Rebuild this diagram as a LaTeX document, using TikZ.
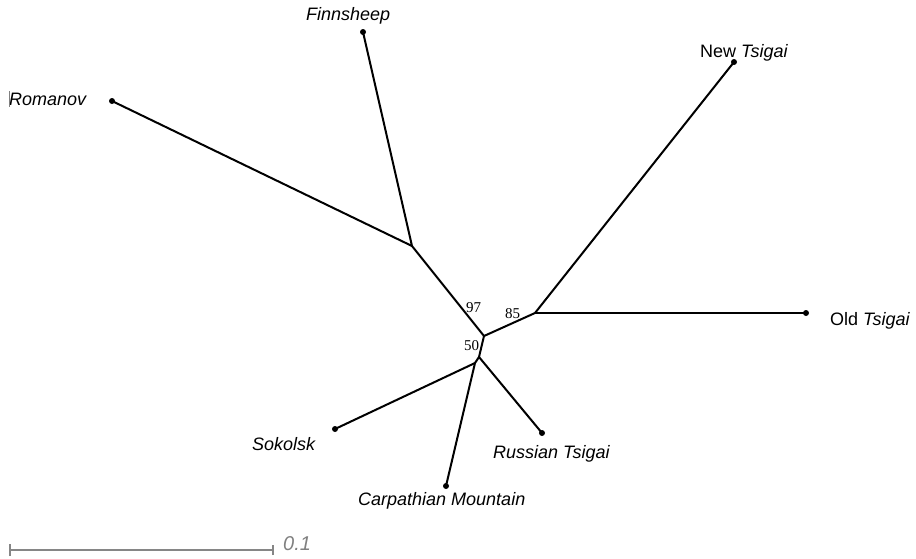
\documentclass[tikz,border=0pt]{standalone}
\usepackage{fontspec}
\setmainfont{Liberation Sans}
\newfontfamily\timesf{Liberation Serif}
\begin{document}
\begin{tikzpicture}[x=1pt,y=-1pt,
  branch/.style={line width=2pt, line cap=round, line join=round},
  tip/.style={circle, fill=black, inner sep=0pt, minimum size=6pt},
  inner/.style={inner sep=0pt, minimum size=0pt},
  leaf/.style={anchor=base west, inner sep=0pt, font=\fontsize{18}{18}\selectfont},
  boot/.style={anchor=base west, inner sep=0pt, font=\timesf\fontsize{15}{15}\selectfont},
  scalebar/.style={line width=2.4pt, draw=gray!95!white}
]
\useasboundingbox (0,0) rectangle (916,558);
% internal nodes
\coordinate (A) at (412,246);
\coordinate (B) at (484,336);
\coordinate (C) at (535,313);
\coordinate (D1) at (479,357);
\coordinate (D2) at (475,363);
% tips
\node[tip] (rom) at (112,101) {};
\node[tip] (fin) at (363,32) {};
\node[tip] (new) at (734,62) {};
\node[tip] (old) at (806,313) {};
\node[tip] (sok) at (335,429) {};
\node[tip] (car) at (446,486) {};
\node[tip] (rus) at (542,433) {};
% branches
\draw[branch] (rom.center) -- (A) -- (fin.center);
\draw[branch] (A) -- (B) -- (C) -- (new.center);
\draw[branch] (C) -- (old.center);
\draw[branch] (B) -- (D1) -- (rus.center);
\draw[branch] (D1) -- (D2) -- (sok.center);
\draw[branch] (D2) -- (car.center);
% bootstrap values
\node[boot] (b97) at (466,312) {97};
\node[boot] (b85) at (505,318) {85};
\node[boot] (b50) at (464,350) {50};
% leaf labels
\node[leaf] (lrom) at (9,105) {\itshape Romanov};
\draw[line width=0.8pt, draw=gray] (9,91) -- (9,107);
\node[leaf] (lfin) at (306,20) {\itshape Finnsheep};
\node[leaf] (lnew) at (700,57) {New \itshape Tsigai};
\node[leaf] (lold) at (830,325) {Old \itshape Tsigai};
\node[leaf] (lsok) at (252,450) {\itshape Sokolsk};
\node[leaf] (lrus) at (493,458) {\itshape Russian Tsigai};
\node[leaf] (lcar) at (358,505) {\itshape Carpathian Mountain};
% scale bar
\coordinate (s1) at (10,550);
\coordinate (s2) at (273,550);
\draw[scalebar] (s1) -- (s2);
\draw[scalebar] ([yshift=-6pt]s1) -- ([yshift=6pt]s1);
\draw[scalebar] ([yshift=-5pt]s2) -- ([yshift=5pt]s2);
\node[anchor=base west, inner sep=0pt, text=gray, font=\itshape\fontsize{20}{20}\selectfont] (sl) at (283,550) {0.1};
\end{tikzpicture}
\end{document}
